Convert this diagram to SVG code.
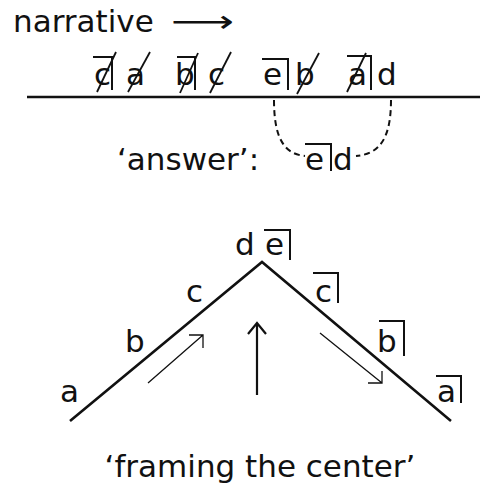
<svg xmlns="http://www.w3.org/2000/svg" width="480" height="484" viewBox="0 0 480 484">
<style>
text{font-family:"DejaVu Sans","Liberation Sans",sans-serif;font-size:31px;fill:#111}
.mk{fill:none;stroke:#111;stroke-width:2}
.sl{stroke:#111;stroke-width:1.8}
.ln{fill:none;stroke:#111;stroke-width:2.6}
.thin{fill:none;stroke:#111;stroke-width:1.3}
.dash{fill:none;stroke:#111;stroke-width:2;stroke-dasharray:6 4}
</style>
<rect width="480" height="484" fill="#fff"/>
<g id="title">
<text x="13" y="32">narrative</text>
<text x="171" y="32" textLength="63" lengthAdjust="spacingAndGlyphs">⟶</text>
</g>
<g id="timeline">
<line class="ln" x1="27" y1="97" x2="480" y2="97"/>
</g>
<g id="top-row">
<g id="t1"><text x="94" y="85">c</text><path class="mk" d="M93 57H112V90"/><line class="sl" x1="97" y1="92" x2="116" y2="52"/></g>
<g id="t2"><text x="126" y="85">a</text><line class="sl" x1="128" y1="92" x2="150" y2="52"/></g>
<g id="t3"><text x="175" y="85">b</text><path class="mk" d="M177 57H195V90"/><line class="sl" x1="180" y1="93" x2="198" y2="53"/></g>
<g id="t4"><text x="208" y="85">c</text><line class="sl" x1="210" y1="93" x2="231" y2="52"/></g>
<g id="t5"><text x="263" y="85">e</text><path class="mk" d="M262 59H288V90"/></g>
<g id="t6"><text x="295" y="85">b</text><line class="sl" x1="297" y1="94" x2="319" y2="53"/></g>
<g id="t7"><text x="348" y="85">a</text><path class="mk" d="M347 56H371V90"/><line class="sl" x1="347" y1="92" x2="366" y2="53"/></g>
<g id="t8"><text x="377" y="85">d</text></g>
</g>
<g id="answer">
<text x="117" y="170">‘answer’:</text>
<text x="305" y="170">e</text><path class="mk" d="M305 144H331V171"/>
<text x="333" y="170">d</text>
</g>
<g id="connectors">
<path class="dash" d="M274 100C274 138 284 154 305 156"/>
<path class="dash" d="M391 100C391 138 380 154 356 156"/>
</g>
<g id="chevron">
<polyline class="ln" points="70,421 262,262 451,421"/>
</g>
<g id="left-labels">
<text x="60" y="402">a</text>
<text x="125" y="352">b</text>
<text x="186" y="302">c</text>
<text x="235" y="255">d</text>
</g>
<g id="right-labels">
<g><text x="265" y="255">e</text><path class="mk" d="M264 230H290V260"/></g>
<g><text x="315" y="302">c</text><path class="mk" d="M313 273H338V303"/></g>
<g><text x="377" y="352">b</text><path class="mk" d="M379 321H404V356"/></g>
<g><text x="437" y="402">a</text><path class="mk" d="M436 376H461V403"/></g>
</g>
<g id="arrows">
<path class="thin" d="M148 383L203 335M189 335H203V348"/>
<path class="ln" style="stroke-width:2.2" d="M257 395V323M248 334L257 323L266 334"/>
<path class="thin" d="M320 333L382 383M368 383H382V371"/>
</g>
<g id="caption">
<text x="260" y="477" text-anchor="middle">‘framing the center’</text>
</g>
</svg>
